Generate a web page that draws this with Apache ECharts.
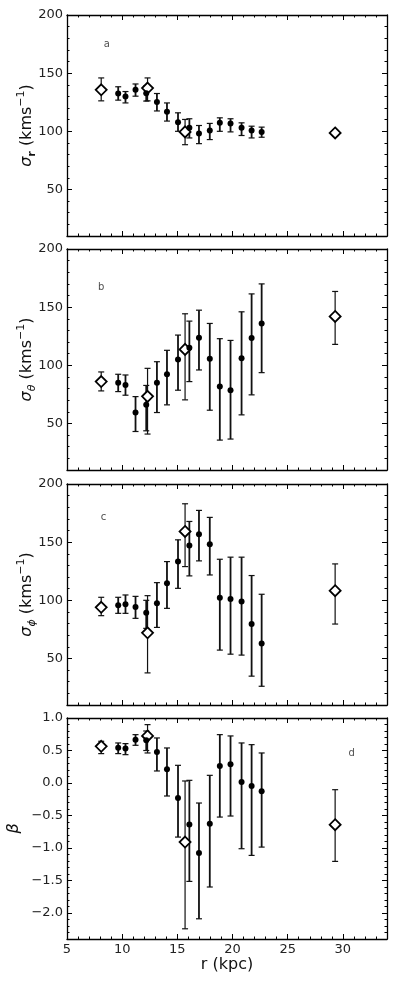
<!DOCTYPE html>
<html>
<head>
<meta charset="utf-8">
<script src="https://cdn.jsdelivr.net/npm/echarts@6/dist/echarts.min.js"></script>
<style>
  html, body { margin: 0; padding: 0; background: #fff; }
  #chart { width: 395px; height: 985px; }
</style>
</head>
<body>
<div id="chart"></div>
<script>
// radii (kpc) of the binned points and of the diamond points
var rDots = [9.64, 10.30, 11.21, 12.18, 13.15, 14.06, 15.06, 16.09, 16.96, 17.94, 18.85, 19.82, 20.82, 21.73, 22.64];
var rDiamonds = [8.1, 12.3, 15.7, 29.3];

// sigma_r
var sigR   = [132.5, 129.9, 135.7, 132.8, 125.3, 116.9, 107.9, 103.0, 98.1, 100.7, 107.3, 106.8, 103.0, 100.7, 99.5];
var sigRLo = [126.8, 124.4, 130.2, 126.0, 117.5, 108.8, 100.0, 94.3, 89.4, 92.9, 100.0, 99.5, 96.4, 94.3, 94.9];
var sigRHi = [138.3, 134.2, 140.7, 139.0, 132.5, 124.4, 115.9, 110.8, 105.0, 106.8, 111.6, 110.8, 107.3, 104.4, 103.6];
var sigRDia   = [135.7, 137.2, 99.5, 98.6];
var sigRDiaLo = [126.2, 126.2, 88.5, 96.0];
var sigRDiaHi = [145.9, 145.9, 110.2, 101.2];

// sigma_theta
var sigT   = [85.1, 83.1, 59.4, 66.0, 85.1, 92.3, 105.1, 115.1, 123.7, 105.7, 81.7, 78.6, 106.0, 123.4, 136.0];
var sigTLo = [77.4, 74.3, 43.1, 43.7, 59.4, 66.0, 78.6, 86.0, 96.0, 61.4, 35.7, 36.6, 57.4, 74.6, 93.7];
var sigTHi = [92.3, 91.7, 73.1, 82.7, 103.1, 112.9, 126.0, 138.0, 147.4, 136.0, 122.9, 121.4, 146.0, 161.4, 170.0];
var sigTDia   = [86.0, 73.3, 113.7, 142.0];
var sigTDiaLo = [78.0, 40.9, 70.3, 118.0];
var sigTDiaHi = [94.3, 97.4, 144.3, 163.5];

// sigma_phi
var sigP   = [95.7, 96.6, 94.3, 89.4, 97.4, 114.7, 133.3, 147.1, 156.9, 148.3, 102.3, 101.1, 98.9, 79.6, 62.9];
var sigPLo = [88.8, 88.8, 84.5, 75.9, 76.7, 93.1, 110.3, 121.0, 133.9, 121.8, 57.2, 53.7, 52.9, 34.8, 26.1];
var sigPHi = [102.6, 104.6, 103.4, 100.0, 115.2, 133.3, 152.0, 167.8, 177.3, 171.3, 135.3, 137.1, 137.1, 121.3, 105.2];
var sigPDia   = [94.0, 72.1, 159.2, 108.3];
var sigPDiaLo = [86.8, 37.6, 129.0, 79.6];
var sigPDiaHi = [102.6, 104.0, 183.0, 131.3];

// anisotropy beta
var beta   = [0.544, 0.529, 0.667, 0.657, 0.477, 0.21, -0.231, -0.637, -1.078, -0.626, 0.262, 0.287, 0.015, -0.046, -0.128];
var betaLo = [0.452, 0.436, 0.58, 0.5, 0.185, -0.2, -0.832, -1.514, -2.089, -1.6, -0.524, -0.508, -1.011, -1.114, -0.986];
var betaHi = [0.616, 0.606, 0.744, 0.8, 0.693, 0.539, 0.272, 0.041, -0.308, 0.118, 0.744, 0.724, 0.616, 0.59, 0.462];
var betaDia   = [0.565, 0.724, -0.909, -0.642];
var betaDiaLo = [0.452, 0.462, -2.243, -1.206];
var betaDiaHi = [0.642, 0.898, 0.031, -0.103];

// tick labels
var rTicks = [5, 10, 15, 20, 25, 30];
var sigmaTicks = [50, 100, 150, 200];
var betaTicks = [-2.0, -1.5, -1.0, -0.5, 0.0, 0.5, 1.0];

// panel tags and where they sit (data units)
var tags = ['a', 'b', 'c', 'd'];
var tagR = [8.6, 8.1, 8.3, 30.8];
var tagV = [175, 167, 171, 0.45];

var FONT = 'DejaVu Sans';
var INK = '#000';

var panels = [
  { v: sigR, lo: sigRLo, hi: sigRHi, dv: sigRDia, dlo: sigRDiaLo, dhi: sigRDiaHi,
    name: '{g|σ}{sbb|r}{t| (kms}{sp|−1}{t|)}' },
  { v: sigT, lo: sigTLo, hi: sigTHi, dv: sigTDia, dlo: sigTDiaLo, dhi: sigTDiaHi,
    name: '{g|σ}{sb|θ}{t| (kms}{sp|−1}{t|)}' },
  { v: sigP, lo: sigPLo, hi: sigPHi, dv: sigPDia, dlo: sigPDiaLo, dhi: sigPDiaHi,
    name: '{g|σ}{sb|ϕ}{t| (kms}{sp|−1}{t|)}' },
  { v: beta, lo: betaLo, hi: betaHi, dv: betaDia, dlo: betaDiaLo, dhi: betaDiaHi,
    name: '{g|β}', isBeta: true }
];

var tops = [15, 249, 484, 718];
var grids = [], xAxes = [], yAxes = [], series = [];

var nameRich = {
  g: { fontFamily: FONT, fontStyle: 'italic', fontSize: 16, color: '#111', verticalAlign: 'middle', lineHeight: 22 },
  t: { fontFamily: FONT, fontSize: 16, color: '#111', verticalAlign: 'middle', lineHeight: 22 },
  sb: { fontFamily: FONT, fontStyle: 'italic', fontSize: 11, color: '#111', verticalAlign: 'bottom', lineHeight: 22 },
  sbb: { fontFamily: FONT, fontWeight: 'bold', fontSize: 11, color: '#111', verticalAlign: 'bottom', lineHeight: 22 },
  sp: { fontFamily: FONT, fontSize: 11, color: '#111', verticalAlign: 'top', lineHeight: 22 }
};

function fmtTick(v) {
  return Number.isInteger(v) && Math.abs(v) >= 5 ? String(v) : v.toFixed(1).replace('-', '\u2212');
}

function makeAxis(gi, pos, major, opts) {
  var ax = {
    type: 'value', gridIndex: gi, position: pos,
    min: opts.min, max: opts.max, interval: opts.minorStep,
    splitLine: { show: false },
    axisPointer: { show: false }
  };
  if (major) {
    ax.axisLine = { show: true, onZero: false, lineStyle: { color: INK, width: 1.3 } };
    ax.axisTick = { show: true, inside: true, length: 5, customValues: opts.ticks, lineStyle: { color: INK, width: 1 } };
    ax.axisLabel = { show: !!opts.labels, customValues: opts.ticks, margin: 4, color: '#222',
      fontFamily: FONT, fontSize: 13, formatter: fmtTick };
  } else {
    ax.axisLine = { show: false, onZero: false };
    ax.axisTick = { show: true, inside: true, length: 2.5, lineStyle: { color: INK, width: 1 } };
    ax.axisLabel = { show: false };
  }
  if (opts.name) {
    ax.name = opts.name;
    ax.nameLocation = 'middle';
    ax.nameGap = opts.nameGap;
    ax.nameRotate = opts.nameRotate;
    ax.nameMoveOverlap = false;
    ax.nameTextStyle = opts.nameStyle;
  }
  return ax;
}

function errSeries(gi, xs, lo, hi, width, cap, z) {
  return {
    type: 'custom', xAxisIndex: 4 * gi, yAxisIndex: 4 * gi,
    data: xs.map(function (x, k) { return [x, lo[k], hi[k]]; }),
    encode: { x: 0, y: [1, 2] },
    clip: false, silent: true, z: z,
    renderItem: function (params, api) {
      var x = api.value(0);
      var a = api.coord([x, api.value(1)]);
      var b = api.coord([x, api.value(2)]);
      var st = { stroke: '#111', lineWidth: width };
      var cs = { stroke: '#111', lineWidth: 1.2 };
      return { type: 'group', children: [
        { type: 'line', shape: { x1: a[0], y1: a[1], x2: b[0], y2: b[1] }, style: st },
        { type: 'line', shape: { x1: a[0] - cap, y1: a[1], x2: a[0] + cap, y2: a[1] }, style: cs },
        { type: 'line', shape: { x1: b[0] - cap, y1: b[1], x2: b[0] + cap, y2: b[1] }, style: cs }
      ] };
    }
  };
}

panels.forEach(function (p, gi) {
  grids.push({ left: 67, right: 8, top: tops[gi], height: 221, containLabel: false, outerBoundsMode: 'none' });

  var last = gi === panels.length - 1;
  var xo = { min: 5, max: 34, minorStep: 1, ticks: rTicks };
  xAxes.push(makeAxis(gi, 'bottom', true, Object.assign({}, xo, {
    labels: last,
    name: last ? 'r (kpc)' : '', nameGap: 18, nameRotate: 0,
    nameStyle: { fontFamily: FONT, fontSize: 16, color: '#111' }
  })));
  xAxes.push(makeAxis(gi, 'bottom', false, xo));
  xAxes.push(makeAxis(gi, 'top', true, xo));
  xAxes.push(makeAxis(gi, 'top', false, xo));

  var yo = p.isBeta
    ? { min: -2.4, max: 1.0, minorStep: 0.1, ticks: betaTicks }
    : { min: 10, max: 200, minorStep: 10, ticks: sigmaTicks };
  yAxes.push(makeAxis(gi, 'left', true, Object.assign({}, yo, {
    labels: true, name: p.name, nameGap: p.isBeta ? 42 : 29, nameRotate: 90,
    nameStyle: { rich: nameRich }
  })));
  yAxes.push(makeAxis(gi, 'left', false, yo));
  yAxes.push(makeAxis(gi, 'right', true, yo));
  yAxes.push(makeAxis(gi, 'right', false, yo));

  series.push(errSeries(gi, rDiamonds, p.dlo, p.dhi, 1.2, 3, 2));
  series.push(errSeries(gi, rDots, p.lo, p.hi, 1.8, 3, 3));
  series.push({
    type: 'scatter', xAxisIndex: 4 * gi, yAxisIndex: 4 * gi, z: 4,
    symbol: 'diamond', symbolSize: 11,
    itemStyle: { color: '#fff', borderColor: '#000', borderWidth: 1.8, opacity: 1 },
    data: rDiamonds.map(function (x, k) { return [x, p.dv[k]]; })
  });
  series.push({
    type: 'scatter', xAxisIndex: 4 * gi, yAxisIndex: 4 * gi, z: 5,
    symbol: 'circle', symbolSize: 6,
    itemStyle: { color: '#000', opacity: 1 },
    data: rDots.map(function (x, k) { return [x, p.v[k]]; })
  });
  series.push({
    type: 'scatter', xAxisIndex: 4 * gi, yAxisIndex: 4 * gi, z: 5,
    symbolSize: 0, silent: true,
    label: { show: true, position: 'inside', formatter: tags[gi], fontFamily: FONT, fontSize: 10, color: '#222' },
    data: [[tagR[gi], tagV[gi]]]
  });
});

var chart = echarts.init(document.getElementById('chart'), null, { renderer: 'canvas' });
chart.setOption({
  animation: false,
  backgroundColor: '#fff',
  grid: grids,
  xAxis: xAxes,
  yAxis: yAxes,
  series: series
});
</script>
</body>
</html>
